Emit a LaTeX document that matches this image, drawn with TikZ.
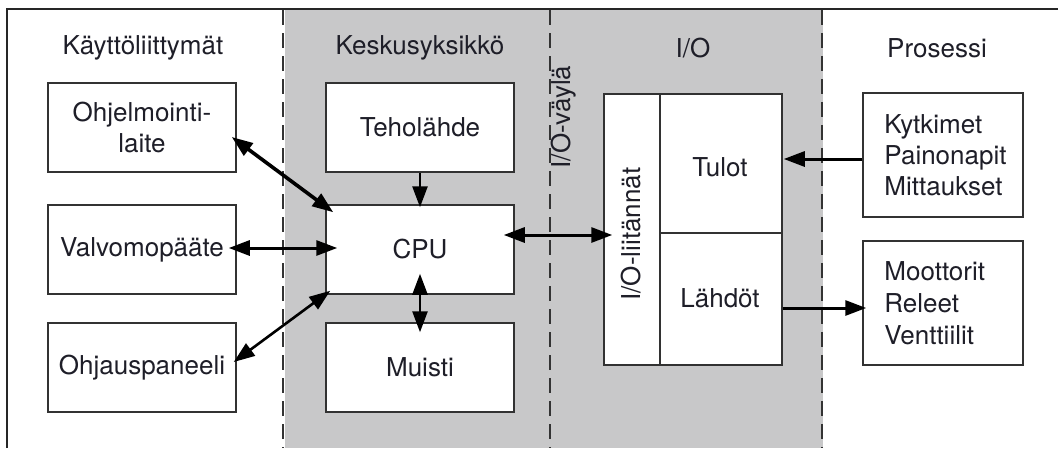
\documentclass[tikz,border=0pt]{standalone}
\usepackage{fontspec}
\setmainfont{TeX Gyre Heros}
\usetikzlibrary{arrows.meta,calc}
\definecolor{bandgray}{RGB}{200,200,201}
\definecolor{ink}{RGB}{30,30,40}
\definecolor{edge}{RGB}{50,50,50}
\tikzset{
  box/.style={draw=edge, line width=1.5pt, fill=white, text=ink, align=center,
    font=\fontsize{26}{31}\selectfont, inner sep=0pt},
  lbl/.style={text=ink, font=\fontsize{26}{31}\selectfont, inner sep=0pt},
  sep/.style={draw=black!80, line width=1.4pt, dash pattern=on 15pt off 8pt},
  tip/.style={Triangle[length=21pt,width=15pt]},
  arr/.style={line width=3pt, {Triangle[length=21pt,width=15pt]}-{Triangle[length=21pt,width=15pt]}},
  arrone/.style={line width=3pt, -{Triangle[length=21pt,width=15pt]}},
}
\begin{document}
\begin{tikzpicture}[x=1pt,y=-1pt]
\useasboundingbox (0,0) rectangle (1058,448);
% background band
\fill[bandgray] (285,9) rectangle (823,448);
% frame
\draw[line width=2.2pt, black!85] (7,448) -- (7,9) -- (1058,9);
% separators
\draw[sep] (283,10) -- (283,448);
\draw[sep] (550,10) -- (550,448);
\draw[sep] (822,10) -- (822,448);
% titles
\node[lbl] (t1) at (143,48) {Käyttöliittymät};
\node[lbl] (t2) at (420,48) {Keskusyksikkö};
\node[lbl] (t3) at (693,48) {I/O};
\node[lbl] (t4) at (937,48) {Prosessi};
% left boxes
\node[box, minimum width=188, minimum height=89] (ohj) at (142,127.5) {Ohjelmointi-\\laite};
\node[box, minimum width=188, minimum height=89] (valv) at (142,249.5) {Valvomopääte};
\node[box, minimum width=188, minimum height=89] (ohp) at (142,367.5) {Ohjauspaneeli};
% middle boxes
\node[box, minimum width=188, minimum height=89] (teho) at (420,127.5) {Teholähde};
\node[box, minimum width=188, minimum height=89] (cpu) at (420,249.5) {CPU};
\node[box, minimum width=188, minimum height=89] (muisti) at (420,367.5) {Muisti};
% I/O block
\node[box, minimum width=56, minimum height=271] (liit) at (632,229.5) {};
\node[lbl, rotate=90] (liitt) at (631,234) {I/O-liitännät};
\node[box, minimum width=122, minimum height=139] (tulot) at (721,163.5) {};
\node[lbl] (tulott) at (720,167) {Tulot};
\node[box, minimum width=122, minimum height=132] (lahd) at (721,299) {};
\node[lbl] (lahdt) at (720,298) {Lähdöt};
\node[lbl, rotate=90] (vayla) at (564,117) {I/O-väylä};
% right boxes
\node[box, minimum width=160, minimum height=124] (kyt) at (943,155) {};
\node[lbl, anchor=west, align=left] (kytt) at ([xshift=22pt]kyt.west) {Kytkimet\\Painonapit\\Mittaukset};
\node[box, minimum width=160, minimum height=124] (moot) at (943,303) {};
\node[lbl, anchor=west, align=left, font=\fontsize{26}{32}\selectfont] (moott) at ([xshift=22pt]moot.west) {Moottorit\\Releet\\Venttiilit};
% connectors
\draw[arr, line width=3.6pt] ([shift={(-5,9.5)}]ohj.east) -- ([shift={(8,8)}]cpu.north west);
\draw[arr] ([shift={(-8,-1.5)}]valv.east) -- ([shift={(12,-1.5)}]cpu.west);
\draw[arr, line width=2.6pt] ([shift={(-3,-5.5)}]ohp.east) -- ([shift={(5,-4)}]cpu.south west);
\draw[arrone, line width=2.6pt] (teho.south) -- ([shift={(0,3)}]cpu.north);
\draw[arr, line width=2.6pt] ([shift={(0,-21)}]cpu.south) -- ([shift={(0,10)}]muisti.north);
\draw[arr] ([shift={(-11,-14.5)}]cpu.east) -- ([shift={(9,5.5)}]liit.west);
\draw[arrone] (kyt.west |- 0,159) -- ([shift={(1,-4.5)}]tulot.east);
\draw[arrone] ([shift={(0,9)}]lahd.east) -- ([shift={(4,5)}]moot.west);
\end{tikzpicture}
\end{document}
